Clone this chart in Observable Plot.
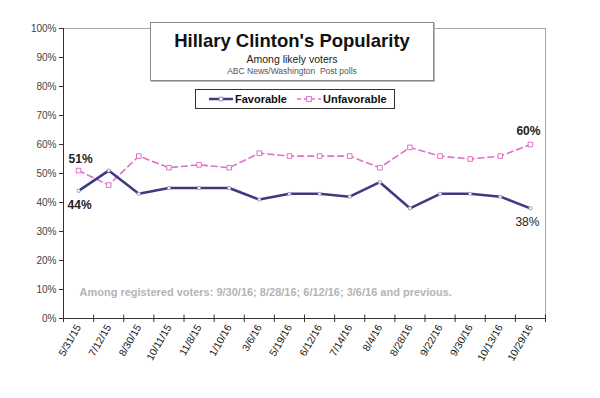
<!DOCTYPE html>
<html>
<head>
<meta charset="utf-8">
<script src="https://cdn.jsdelivr.net/npm/d3@7"></script>
<script src="https://cdn.jsdelivr.net/npm/@observablehq/plot@0.6"></script>
<style>
  body { margin: 0; background: white; font-family: "Liberation Sans", Arial, sans-serif; }
  #wrap { position: relative; width: 600px; height: 398px; }
  #titlebox { position: absolute; left: 150px; top: 22px; width: 282px; height: 57px; border: 1px solid #8a8a8a; background: white; text-align: center; box-shadow: 1px 1px 0 #bbb; }
  #titlebox .t { font-weight: bold; font-size: 18.5px; color: #111; margin-top: 8px; line-height: 20px; }
  #titlebox .s { font-size: 10.5px; color: #222; line-height: 12px; margin-top: 2px; }
  #titlebox .c { font-size: 8.5px; color: #555; line-height: 10px; margin-top: 1px; }
  #legend { position: absolute; left: 195px; top: 89px; width: 198px; height: 18px; border: 1px solid #333; background: white; font-weight: bold; font-size: 11px; color: #111; }
  #legend .item { position: absolute; top: 2px; display: flex; align-items: center; height: 14px; }
  #legend svg { margin-right: 2px; }
</style>
</head>
<body>
<div id="wrap"></div>
<script>
const dates = ["5/31/15","7/12/15","8/30/15","10/11/15","11/8/15","1/10/16","3/6/16","5/19/16","6/12/16","7/14/16","8/4/16","8/28/16","9/22/16","9/30/16","10/13/16","10/29/16"];
const favorable   = [44, 51, 43, 45, 45, 45, 41, 43, 43, 42, 47, 38, 43, 43, 42, 38];
const unfavorable = [51, 46, 56, 52, 53, 52, 57, 56, 56, 56, 52, 59, 56, 55, 56, 60];
const yTicks = [0, 10, 20, 30, 40, 50, 60, 70, 80, 90, 100];
const seriesNames = ["Favorable", "Unfavorable"];
const titleText = "Hillary Clinton's Popularity";
const subtitleText = "Among likely voters";
const sourceText = "ABC News/Washington\u00a0 Post polls";
const noteText = "Among registered voters: 9/30/16; 8/28/16; 6/12/16; 3/6/16 and previous.";

const favColor = "#3c3a80";
const unfColor = "#e070c8";

const rows = dates.map((d, i) => ({i, date: d, fav: favorable[i], unf: unfavorable[i]}));
const first = [rows[0]];
const last = [rows[rows.length - 1]];
const boundaries = d3.range(dates.length + 1).map(i => i - 0.5);

const chart = Plot.plot({
  width: 600,
  height: 398,
  marginLeft: 63,
  marginRight: 55,
  marginTop: 28,
  marginBottom: 80,
  style: {fontFamily: "Liberation Sans, Arial, sans-serif", background: "white", overflow: "visible"},
  x: {type: "linear", domain: [-0.5, dates.length - 0.5], label: null},
  y: {domain: [0, 100], label: null},
  marks: [
    Plot.frame({stroke: "#a8a8a8"}),
    Plot.ruleY([0], {stroke: "#333"}),
    Plot.ruleX([-0.5], {stroke: "#333"}),
    Plot.ruleX(boundaries, {y1: -1.4, y2: 1.2, stroke: "#333"}),
    Plot.axisY(yTicks, {tickSize: 4, tickPadding: 3, tickFormat: d => d + "%", fontSize: 10, fill: "#444", stroke: "#333", label: null}),
    Plot.axisX(d3.range(dates.length), {tickSize: 0, tickPadding: 7, tickRotate: -60, tickFormat: i => dates[i], fontSize: 10.3, fill: "#111", label: null}),
    Plot.text([noteText], {frameAnchor: "bottom-left", textAnchor: "start", dx: 16, dy: -23, fill: "#b4b4b4", fontWeight: "bold", fontSize: 11, text: d => d}),
    Plot.line(rows, {x: "i", y: "unf", stroke: unfColor, strokeWidth: 1.6, strokeDasharray: "6,4"}),
    Plot.dot(rows, {x: "i", y: "unf", symbol: "square", r: 2.6, stroke: unfColor, fill: "white", strokeWidth: 1}),
    Plot.line(rows, {x: "i", y: "fav", stroke: favColor, strokeWidth: 2.5}),
    Plot.dot(rows, {x: "i", y: "fav", symbol: "square", r: 1.6, stroke: "#9a98c0", fill: "white", strokeWidth: 0.8}),
    Plot.text(first, {x: "i", y: "unf", text: d => d.unf + "%", dy: -11, dx: 2, fontWeight: "bold", fontSize: 12, fill: "#222"}),
    Plot.text(first, {x: "i", y: "fav", text: d => d.fav + "%", dy: 14, dx: 1, fontWeight: "bold", fontSize: 12, fill: "#222"}),
    Plot.text(last, {x: "i", y: "unf", text: d => d.unf + "%", dy: -13, dx: -2, fontWeight: "bold", fontSize: 12, fill: "#222"}),
    Plot.text(last, {x: "i", y: "fav", text: d => d.fav + "%", dy: 14, dx: -3, fontSize: 12, fill: "#222"})
  ]
});

const wrap = document.getElementById("wrap");
wrap.appendChild(chart);

const tb = document.createElement("div");
tb.id = "titlebox";
tb.innerHTML = `<div class="t">${titleText}</div><div class="s">${subtitleText}</div><div class="c">${sourceText}</div>`;
wrap.appendChild(tb);

const lg = document.createElement("div");
lg.id = "legend";
const sample = (color, dash, r) => `<svg width="24" height="8"><line x1="0" y1="4" x2="24" y2="4" stroke="${color}" stroke-width="${dash ? 1.6 : 2.5}" ${dash ? 'stroke-dasharray="4,3"' : ''}/><rect x="${12 - r}" y="${4 - r}" width="${2 * r}" height="${2 * r}" fill="white" stroke="${dash ? color : '#9a98c0'}" stroke-width="1"/></svg>`;
lg.innerHTML = `<div class="item" style="left:13px">${sample(favColor, false, 1.8)}${seriesNames[0]}</div>` +
               `<div class="item" style="left:101px">${sample(unfColor, true, 2.4)}${seriesNames[1]}</div>`;
wrap.appendChild(lg);
</script>
</body>
</html>
